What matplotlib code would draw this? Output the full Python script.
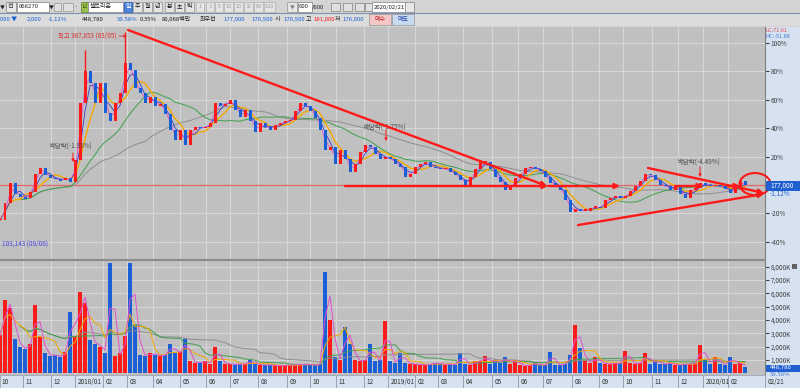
import numpy as np
import pandas as pd
import matplotlib
matplotlib.use("Agg")
import matplotlib.pyplot as plt
from matplotlib.patches import Rectangle, Ellipse

plt.rcParams['font.family'] = ['Noto Sans CJK KR', 'DejaVu Sans']

# =========================
# 데이터 (4거래일 단위, 현재가 177,000 대비 %)
# =========================
close_pct = [
    -24.6, -12.7, 1.4, -6, -8.5, -9, -5, 8, 12, 7,
    5, 4, 3.5, 5, 2, 17.6, 58, 80, 72, 58,
    72, 51, 45, 58, 65, 86, 81, 68, 65, 58,
    62, 56, 57, 50, 39, 32, 39, 28, 39, 41,
    40, 41, 44, 58, 56, 57, 60, 53, 48, 53,
    45, 37, 44, 41, 39, 42, 44, 45, 46, 52,
    58, 56, 52, 47, 39, 25, 27, 15, 25, 18,
    9, 15, 23, 28, 27, 22, 18, 20, 18, 15,
    13, 6, 8, 13, 15, 16, 13, 12, 11, 12,
    9, 7, 3.5, 0, 6, 11, 16, 16, 11, 6,
    2, -3.5, -1, 5, 8, 12, 13, 11, 10, 6,
    1.5, -1, -3.5, -10.5, -19, -17, -18, -18, -16, -15.5,
    -16, -10.5, -9, -8, -9, -8, -4, -1, 3, 8,
    7, 3.5, 0, -1, -3.5, -1, -6, -9, -3.5, -2,
    1.4, 0, -1, 0, -1, -3, -5.5, -2, 3, 0,
]

volume_k = [
    2850, 5500, 4900, 2600, 2000, 1800, 2200, 5100, 2700, 1500,
    1300, 1400, 1200, 1600, 4600, 2800, 6100, 5300, 2500, 2200,
    2000, 1500, 8300, 1300, 1500, 2800, 8300, 3600, 1400, 1300,
    1500, 1400, 1300, 1400, 2200, 1500, 1600, 2600, 900, 800,
    800, 900, 700, 2000, 900, 700, 700, 650, 700, 700,
    1000, 700, 600, 650, 600, 600, 550, 600, 650, 600,
    700, 650, 650, 600, 700, 7600, 4000, 1200, 1000, 3500,
    2200, 1000, 900, 1000, 2200, 900, 1000, 3900, 900, 800,
    1500, 800, 700, 700, 650, 600, 700, 800, 700, 650,
    700, 600, 1500, 700, 600, 900, 900, 1300, 700, 1000,
    800, 1200, 700, 1000, 600, 550, 600, 800, 600, 600,
    1600, 600, 650, 700, 1400, 3600, 1900, 900, 800, 1200,
    800, 700, 700, 750, 800, 1700, 800, 700, 800, 1500,
    700, 1000, 700, 700, 800, 600, 650, 700, 700, 800,
    2100, 1000, 700, 1200, 700, 650, 1200, 700, 800, 449,
]

# 장중 고가 스파이크 (봉 번호, %)
spike_high = [(17, 95.0), (25, 107.8)]

months = ['11', '12', '2018/01', '02', '03', '04', '05', '06', '07', '08', '09',
          '10', '11', '12', '2019/01', '02', '03', '04', '05', '06', '07', '08',
          '09', '10', '11', '12', '2020/01', '02']
month_at = [4.6, 10.2, 15.0, 20.6, 25.4, 30.6, 36.0, 41.2, 46.0, 51.6, 57.4,
            62.0, 67.2, 72.8, 77.6, 83.0, 87.6, 92.6, 98.4, 103.6, 108.6, 114.4,
            119.8, 124.6, 130.4, 135.6, 140.6, 145.6]

# 추세선 (봉 번호, %)
trend_lines = [
    ((25.6, 109.2), (109.4, -0.7)),
    ((69.0, -0.7), (109.6, -0.7)),
    ((109.6, -0.7), (124.0, -0.7)),
    ((135.0, -0.7), (140.6, -0.7)),
    ((145.6, -0.7), (148.0, -0.7)),
    ((129.6, 12.0), (152.8, -5.6)),
    ((115.6, -28.2), (152.8, -6.3)),
]

W, H = 800, 388
RED = '#ff1a1a'
BLUE = '#1a5fd6'
BG = '#c0c0c0'
STRIP = '#d6e2f0'

fig = plt.figure(figsize=(8, 3.88), dpi=100)
fig.patch.set_facecolor('#d4d4d4')


def px(x0, y0, w, h):
    return [x0 / W, 1 - (y0 + h) / H, w / W, h / H]


def rect(x0, y0, w, h, fc, ec='none', z=-1, lw=0.6):
    fig.patches.append(Rectangle((x0 / W, 1 - (y0 + h) / H), w / W, h / H,
                                 transform=fig.transFigure, fc=fc, ec=ec,
                                 lw=lw, zorder=z))


def label(x0, y0, s, color='#202020', size=4.3, ha='left', z=5, **kw):
    fig.text(x0 / W, 1 - y0 / H, s, color=color, fontsize=size, ha=ha,
             va='center', zorder=z, **kw)


# =========================
# 툴바
# =========================
rect(0, 0, 800, 13, '#d4d4d4')
rect(0, 13, 800, 13, '#dcdcdc')
fig.lines.append(plt.Line2D([0, 1], [1 - 13 / H] * 2, transform=fig.transFigure,
                            color='#8090b0', lw=0.8))

label(0, 7, '▼', size=3.5)
rect(6, 2, 10, 10, '#e8e8e8', '#909090', z=1)
label(8, 7, '전')
rect(17, 2, 32, 10, 'white', '#909090', z=1)
label(19, 7, '068270')
label(49, 7, '▼', size=3.5)
rect(54, 3, 7, 8, '#e0e0e0', '#a0a0a0', z=1)
rect(63, 3, 10, 8, '#e0e0e0', '#a0a0a0', z=1)
label(75, 7, '-')
rect(81, 2, 7, 10, '#9cc04c', '#708a30', z=1)
label(82, 7, '신', color='#2a4a10', size=4)
rect(88, 2, 35, 10, 'white', '#909090', z=1)
label(90, 7, '셀트리온')
rect(124, 2, 8, 10, '#4f86e0', '#3060b0', z=1)
label(128, 7, '일', color='white', ha='center')
for xx, s in zip([133, 143, 153, 165, 175, 185], ['주', '월', '년', '분', '초', '틱']):
    rect(xx, 2, 9, 10, '#e4e4e4', '#a0a0a0', z=1)
    label(xx + 4.5, 7, s, ha='center')
for xx, w, s in zip([196, 206, 215, 224, 234, 244, 254, 264],
                    [8, 8, 8, 9, 9, 9, 9, 11],
                    ['1', '3', '5', '10', '20', '30', '60', '120']):
    rect(xx, 2, w, 10, '#e4e4e4', '#b8b8b8', z=1)
    label(xx + w / 2, 7, s, color='#a0a0a0', ha='center', size=4)
rect(287, 2, 10, 10, '#e4e4e4', '#a0a0a0', z=1)
label(292, 7, '▼', size=3.5, color='#808080', ha='center')
rect(298, 2, 14, 10, 'white', '#909090', z=1)
label(299, 7, '600')
label(312, 7, '/600')
for xx in [331, 343, 355, 365]:
    rect(xx, 3, 9, 8, '#e0e0e0', '#909090', z=1)
rect(372, 2, 33, 10, 'white', '#909090', z=1)
label(374, 7, '2020/02/21')
rect(405, 2, 9, 10, '#e8e8e8', '#909090', z=1)

row2 = [
    (0, '000 ▼', BLUE), (27, '2,000', BLUE), (48, '-1.12%', BLUE),
    (82, '448,780', '#202020'), (117, '59.58%', BLUE), (140, '0.35%', '#202020'),
    (162, '80,068백만', '#202020'), (200, '최우선', '#202020'),
    (223, '177,000', BLUE), (251, '176,500', BLUE), (275, '시', '#202020'),
    (283, '176,500', BLUE), (306, '고', '#202020'), (313, '181,000', RED),
    (335, '저', '#202020'), (342, '176,000', BLUE),
]
for xx, s, c in row2:
    label(xx, 19.5, s, color=c)
rect(369, 14, 22, 11, '#f4c6c6', '#a0a0a0', z=1)
label(380, 19.5, '매수', color='#c02020', ha='center')
rect(392, 14, 22, 11, '#c6daf2', '#a0a0a0', z=1)
label(403, 19.5, '매도', color='#2040a0', ha='center')

# 오른쪽 / 아래 눈금 영역
rect(765, 27, 35, 361, STRIP)

# =========================
# 가격 차트
# =========================
close = np.array(close_pct, float)
open_ = np.r_[close[0], close[:-1]]
up = close >= open_
x = np.arange(len(close))
colors = np.where(up, RED, BLUE)

ax_p = fig.add_axes(px(0, 27, 765, 232))
ax_p.set_facecolor(BG)
ax_p.set_xlim(0, 153)
ax_p.set_ylim(-52.1, 111.3)

for m in month_at:
    ax_p.axvline(m, color='#d6d6d6', lw=0.8, zorder=0)
for g in [-40, -20, 20, 40, 60, 80, 100]:
    ax_p.axhline(g, color='#d6d6d6', lw=0.8, zorder=0)
ax_p.axhline(0, color='#e06868', lw=0.9, zorder=1)

s = pd.Series(close)
for win, c, lw in [(30, '#8e8e8e', 0.7), (15, '#3fa04c', 0.7), (5, '#f5a800', 1.0),
                   (3, '#3a3ac8', 0.6), (2, '#e050d0', 0.6)]:
    ax_p.plot(x, s.rolling(win, min_periods=min(win, 5) if win > 5 else 1).mean(),
              color=c, lw=lw, zorder=2)

body = close - open_
body = np.where(np.abs(body) < 1.0, np.where(up, 1.0, -1.0), body)
ax_p.bar(x, body, bottom=open_, width=0.6, color=colors, zorder=3)
for i, hi in spike_high:
    ax_p.vlines(i, close[i], hi, color=colors[i], lw=1.0, zorder=3)

for (x0, y0), (x1, y1) in trend_lines:
    ax_p.annotate('', xy=(x1, y1), xytext=(x0, y0),
                  arrowprops=dict(arrowstyle='-|>', color=RED, lw=1.7,
                                  mutation_scale=7, shrinkA=0, shrinkB=0),
                  zorder=6)
ax_p.add_patch(Ellipse((151, 0.7), 6.2, 15.5, fill=False, ec=RED, lw=1.5,
                       clip_on=False, zorder=6))

ax_p.text(11.6, 104.9, '최고 367,853 (03/05)', color='#e03030', fontsize=4.6,
          va='center')
ax_p.annotate('', xy=(25.4, 104.9), xytext=(23.8, 104.9),
              arrowprops=dict(arrowstyle='-|>', color='#e03030', lw=0.6,
                              mutation_scale=4, shrinkA=0, shrinkB=0))
ax_p.text(0.4, -41.5, '103,143 (09/06)', color='#4848e0', fontsize=4.6, va='center')

divs = [((10.0, 26.8), '배당락(-1.95%)', (14.6, 22.5), (14.6, 16.2)),
        ((72.6, 40.8), '배당락(-1.75%)', (77.2, 38.7), (77.2, 31.0)),
        ((135.6, 15.5), '배당락(-4.49%)', (140.0, 12.7), (140.0, 5.6))]
for pos, s_, a0, a1 in divs:
    ax_p.text(pos[0], pos[1], s_, color='#505050', fontsize=4.6, va='center')
    ax_p.annotate('', xy=a1, xytext=a0,
                  arrowprops=dict(arrowstyle='-|>', color=RED, lw=0.7,
                                  mutation_scale=4, shrinkA=0, shrinkB=0))

ax_p.yaxis.tick_right()
ax_p.set_yticks([-40, -20, 20, 40, 60, 80, 100])
ax_p.set_yticklabels([f'{v}%' for v in [-40, -20, 20, 40, 60, 80, 100]])
ax_p.tick_params(axis='y', direction='out', length=3, pad=1, labelsize=4.6,
                 colors='#404040')
ax_p.set_xticks([])
for side in ['left', 'top']:
    ax_p.spines[side].set_visible(False)
ax_p.spines['right'].set_color('#808080')
ax_p.spines['bottom'].set_color('#8c8c8c')

label(766, 30.5, 'LC:71.61', color='#e04848', size=4.0)
label(766, 36.8, 'HC:-51.88', color='#4a78d0', size=4.0)
rect(766, 181, 34, 10, '#1f5fd0', z=4)
label(770, 186, '177,000', color='white', size=4.6)
label(770, 194, '-1.12%', color=BLUE, size=4.6)

# =========================
# 거래량
# =========================
vol = np.array(volume_k, float)
ax_v = fig.add_axes(px(0, 260, 765, 115), sharex=ax_p)
ax_v.set_facecolor(BG)
ax_v.set_ylim(-125, 8500)
for m in month_at:
    ax_v.axvline(m, color='#d6d6d6', lw=0.8, zorder=0)
for g in range(1000, 9000, 1000):
    ax_v.axhline(g, color='#d6d6d6', lw=0.8, zorder=0)
ax_v.bar(x, vol, width=0.7, color=colors, zorder=2)
vs = pd.Series(vol)
for win, c in [(30, '#8e8e8e'), (15, '#3fa04c'), (5, '#f5a800'), (2, '#e050d0')]:
    ax_v.plot(x, vs.rolling(win, min_periods=min(win, 5) if win > 5 else 1).mean(),
              color=c, lw=0.7, zorder=3)
ax_v.yaxis.tick_right()
vt = list(range(1000, 9000, 1000))
ax_v.set_yticks(vt)
ax_v.set_yticklabels([f'{v:,}K' for v in vt])
ax_v.tick_params(axis='y', direction='out', length=3, pad=1, labelsize=4.6,
                 colors='#404040')
ax_v.tick_params(axis='x', bottom=False, labelbottom=False)
for side in ['left', 'bottom']:
    ax_v.spines[side].set_visible(False)
ax_v.spines['top'].set_color('#8c8c8c')
ax_v.spines['right'].set_color('#808080')
rect(792, 264, 5, 5, '#606060', z=4)
rect(766, 364.5, 34, 7, '#1f5fd0', z=4)
label(770, 368, '448,780', color='white', size=4.3)
label(770, 374.5, '59.58%', color='#4a78d0', size=4.3)

# =========================
# 날짜 축
# =========================
ax_x = fig.add_axes(px(0, 375, 765, 13), sharex=ax_p)
ax_x.set_facecolor(STRIP)
ax_x.set_ylim(0, 1)
ax_x.text(0.3, 0.45, '10', fontsize=4.6, color='#303030', va='center')
for m, s_ in zip(month_at, months):
    ax_x.axvline(m, color='#9aa4b4', lw=0.7)
    ax_x.text(m + 0.5, 0.45, s_, fontsize=4.6, color='#303030', va='center')
ax_x.set_xticks([])
ax_x.set_yticks([])
for sp in ax_x.spines.values():
    sp.set_color('#9aa4b4')
    sp.set_linewidth(0.6)
label(768, 382, '02/21', color='#303030', size=4.6)
fig.lines.append(plt.Line2D([765 / W] * 2, [0, 1 - 375 / H], transform=fig.transFigure,
                            color='#9aa4b4', lw=0.6))

fig.savefig('out.png', dpi=100)
